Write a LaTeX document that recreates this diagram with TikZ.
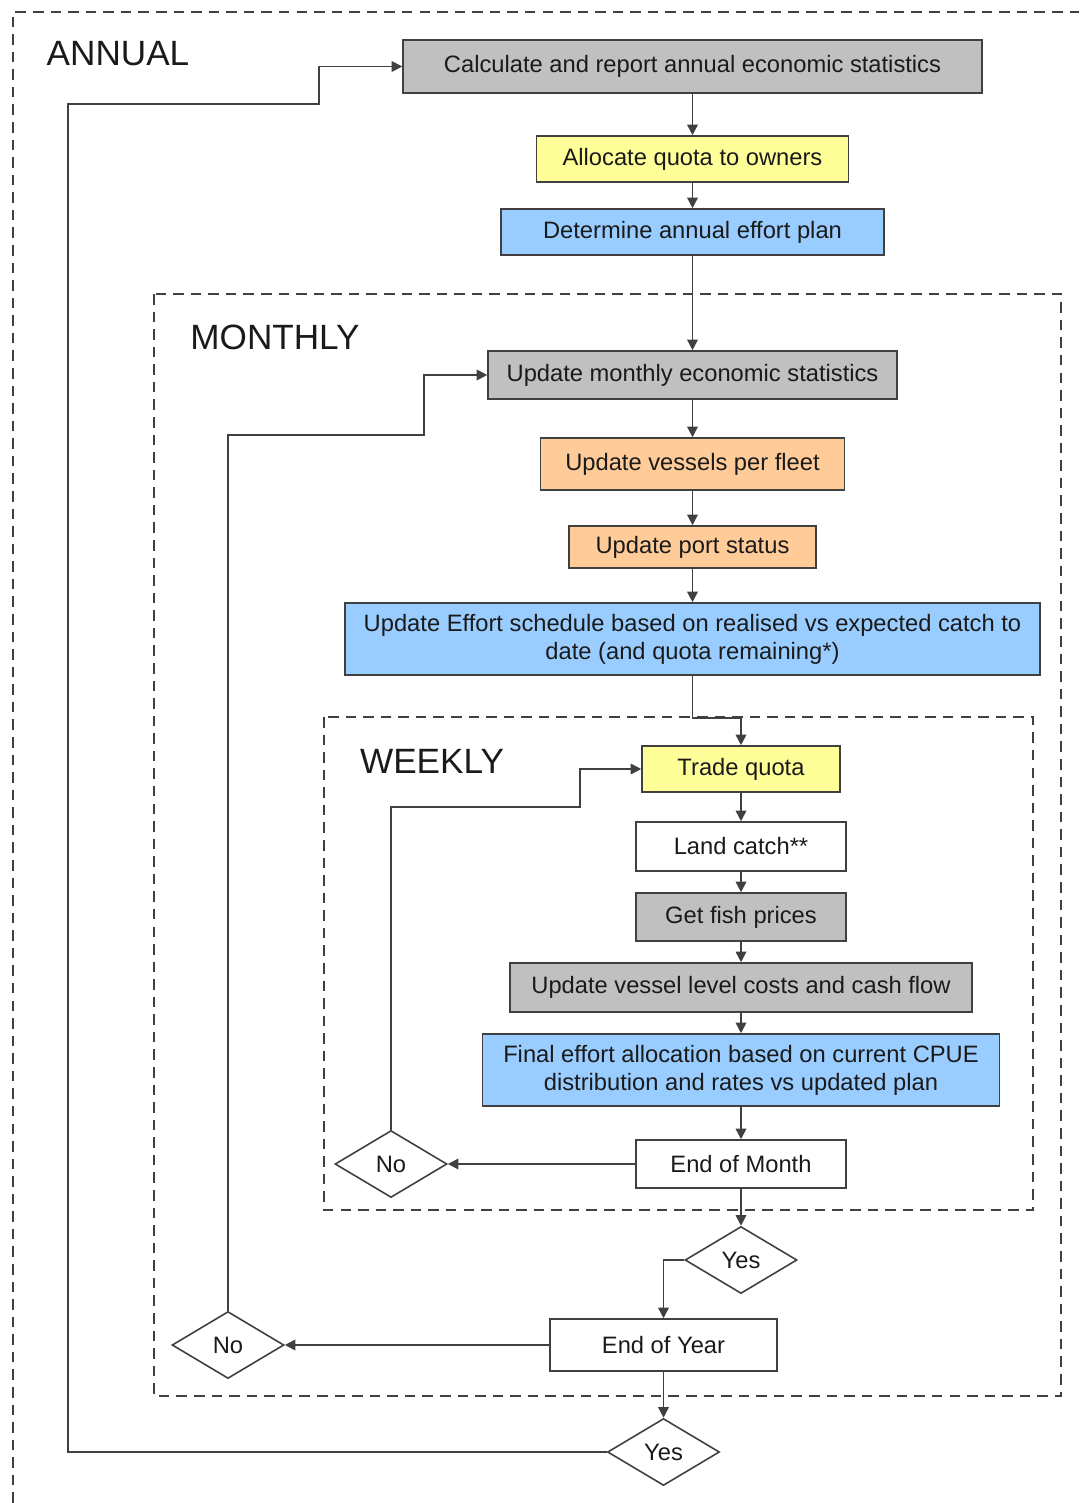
\documentclass[tikz,border=0pt]{standalone}
\usepackage{fontspec}
\setmainfont{Liberation Sans}
\usepackage{tikz}
\usetikzlibrary{arrows.meta,shapes.geometric,positioning,calc}
\definecolor{boxgray}{HTML}{C0C0C0}
\definecolor{boxyellow}{HTML}{FFFF99}
\definecolor{boxblue}{HTML}{99CCFF}
\definecolor{boxorange}{HTML}{FFCC99}
\definecolor{linegray}{HTML}{404040}
\definecolor{textdark}{HTML}{1A1A1A}
\tikzset{mybox/.style={draw=linegray, line width=0.9pt, rectangle, inner sep=0pt, align=center,
		text=textdark, font=\fontsize{13.5}{16}\selectfont}}
\tikzset{mydiamond/.style={draw=linegray, line width=0.9pt, diamond, inner sep=0pt, fill=white,
		minimum width=2.24cm, minimum height=1.34cm, text=textdark, font=\fontsize{13.5}{16}\selectfont}}
\tikzset{myframe/.style={draw=linegray, line width=0.8pt, dash pattern=on 6pt off 4pt}}
\tikzset{myarrow/.style={draw=linegray, line width=0.9pt, -{Triangle[length=6pt,width=6pt]}}}
\tikzset{mytitle/.style={text=textdark, font=\fontsize{20}{24}\selectfont}}

\begin{document}
\begin{tikzpicture}[x=0.02cm, y=-0.02cm]
			\useasboundingbox (0,0) rectangle (1079,1503);

			% frames
			\draw[myframe] (13,1503) -- (13,12) -- (1079,12);
			\draw[myframe] (154,294) rectangle (1061,1396);
			\draw[myframe] (324,717) rectangle (1033,1210);

			\node[mytitle] (annual) at (118,54) {ANNUAL};
			\node[mytitle] (monthly) at (275,337) {MONTHLY};
			\node[mytitle] (weekly) at (432,761) {WEEKLY};

			% annual
			\node[mybox, fill=boxgray, minimum width=11.58cm, minimum height=1.06cm] (calc) at (692.5,66.5) {Calculate and report annual economic statistics};
			\node[mybox, fill=boxyellow, minimum width=6.24cm, minimum height=0.92cm] (alloc) at (692.5,159) {Allocate quota to owners};
			\node[mybox, fill=boxblue, minimum width=7.66cm, minimum height=0.92cm] (plan) at (692.5,232) {Determine annual effort plan};

			% monthly
			\node[mybox, fill=boxgray, minimum width=8.18cm, minimum height=0.96cm] (econ) at (692.5,375) {Update monthly economic statistics};
			\node[mybox, fill=boxorange, minimum width=6.08cm, minimum height=1.04cm] (vessels) at (692.5,464) {Update vessels per fleet};
			\node[mybox, fill=boxorange, minimum width=4.94cm, minimum height=0.84cm] (port) at (692.5,547) {Update port status};
			\node[mybox, fill=boxblue, minimum width=13.9cm, minimum height=1.44cm] (sched) at (692.5,639) {Update Effort schedule based on realised vs expected catch to\\date (and quota remaining*)};

			% weekly
			\node[mybox, fill=boxyellow, minimum width=3.96cm, minimum height=0.92cm] (trade) at (741,769) {Trade quota};
			\node[mybox, fill=white, minimum width=4.2cm, minimum height=0.98cm] (land) at (741,846.5) {Land catch**};
			\node[mybox, fill=boxgray, minimum width=4.2cm, minimum height=0.96cm] (prices) at (741,917) {Get fish prices};
			\node[mybox, fill=boxgray, minimum width=9.24cm, minimum height=0.98cm] (costs) at (741,987.5) {Update vessel level costs and cash flow};
			\node[mybox, fill=boxblue, minimum width=10.34cm, minimum height=1.44cm] (final) at (741,1070) {Final effort allocation based on current CPUE\\distribution and rates vs updated plan};
			\node[mybox, fill=white, minimum width=4.2cm, minimum height=0.96cm] (eom) at (741,1164) {End of Month};
			\node[mydiamond] (noW) at (391,1164) {No};

			\node[mydiamond] (yesM) at (741,1260) {Yes};
			\node[mybox, fill=white, minimum width=4.54cm, minimum height=1.04cm] (eoy) at (663.5,1345) {End of Year};
			\node[mydiamond] (noM) at (228,1345) {No};
			\node[mydiamond] (yesA) at (663.5,1452) {Yes};

			% connectors
			\draw[myarrow] (calc) -- (alloc);
			\draw[myarrow] (alloc) -- (plan);
			\draw[myarrow] (plan) -- (econ);
			\draw[myarrow] (econ) -- (vessels);
			\draw[myarrow] (vessels) -- (port);
			\draw[myarrow] (port) -- (sched);
			\draw[myarrow] (sched.south) -- ++(0,42) -| (trade.north);
			\draw[myarrow] (trade) -- (land);
			\draw[myarrow] (land) -- (prices);
			\draw[myarrow] (prices) -- (costs);
			\draw[myarrow] (costs) -- (final);
			\draw[myarrow] (final) -- (eom);
			\draw[myarrow] (eom) -- (noW);
			\draw[myarrow] (noW.north) -- ++(0,-323) -- ++(189,0) |- (trade.west);
			\draw[myarrow] (eom) -- (yesM);
			\draw[myarrow] (yesM.west) -| (eoy.north);
			\draw[myarrow] (eoy) -- (noM);
			\draw[myarrow] (noM.north) -- ++(0,-876) -- ++(196,0) |- (econ.west);
			\draw[myarrow] (eoy) -- (yesA);
			\draw[myarrow] (yesA.west) -- ++(-539,0) -- ++(0,-1348) -- ++(251,0) |- (calc.west);
\end{tikzpicture}
\end{document}
